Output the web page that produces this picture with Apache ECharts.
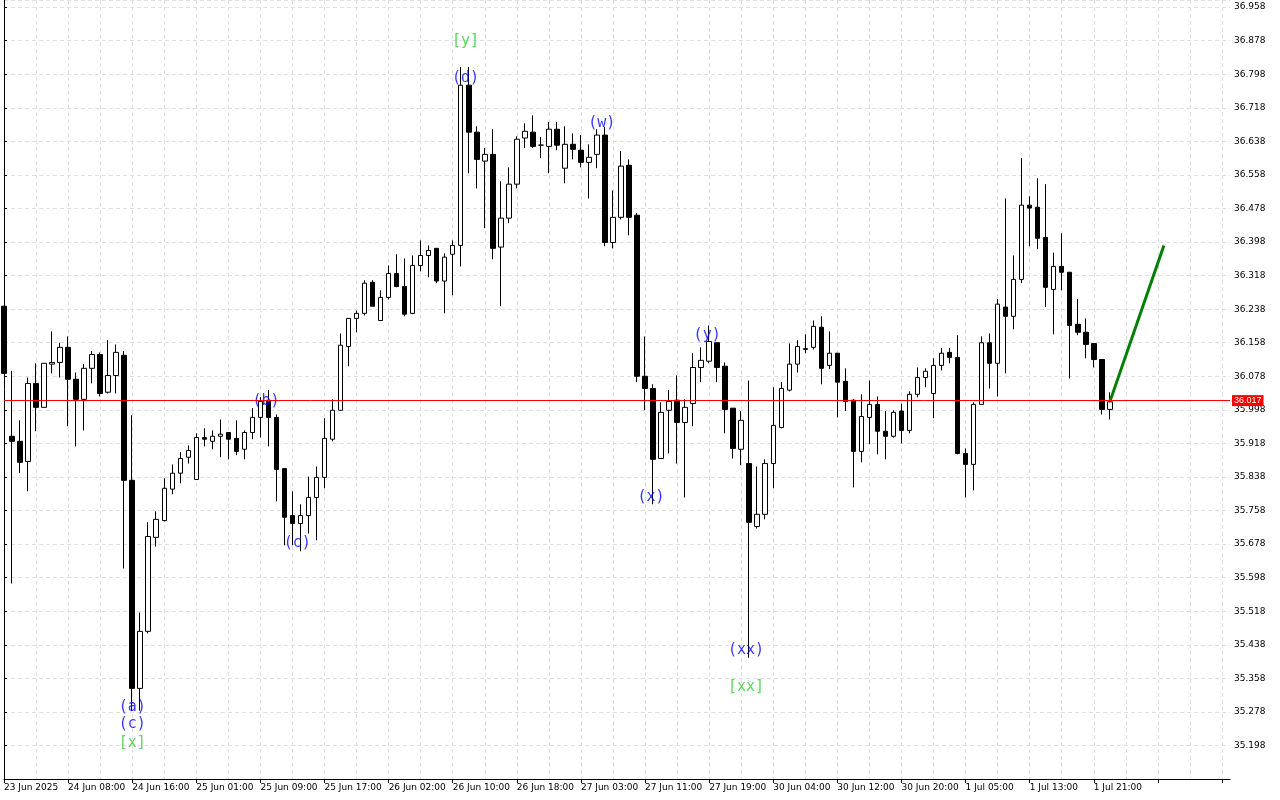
<!DOCTYPE html>
<html><head><meta charset="utf-8">
<script src="https://cdn.jsdelivr.net/npm/echarts@6/dist/echarts.min.js"></script>
<style>html,body{margin:0;padding:0;background:#fff}#c{width:1280px;height:800px}</style>
</head><body><div id="c"></div>
<script>
// OHLC as [open, close, low, high]
const candles = [
[36.245,36.085,36.085,36.245],[35.935,35.923,35.584,36.091],[35.923,35.873,35.847,35.973],[35.875,36.061,35.804,36.075],
[36.061,36.004,35.947,36.109],[36.004,36.109,36.004,36.109],[36.107,36.111,36.085,36.185],[36.111,36.147,36.075,36.158],
[36.147,36.071,35.959,36.173],[36.071,36.023,35.911,36.087],[36.023,36.097,35.949,36.107],[36.097,36.130,36.061,36.138],
[36.130,36.037,36.030,36.135],[36.040,36.080,36.037,36.164],[36.080,36.135,36.037,36.154],[36.128,35.830,35.620,36.138],
[35.830,35.334,35.281,35.985],[35.334,35.470,35.281,35.515],[35.470,35.696,35.465,35.730],[35.694,35.737,35.672,35.756],
[35.734,35.811,35.732,35.835],[35.809,35.847,35.797,35.868],[35.847,35.882,35.823,35.897],[35.885,35.901,35.870,35.913],
[35.832,35.932,35.832,35.942],[35.932,35.928,35.911,35.954],[35.923,35.935,35.904,35.949],[35.935,35.940,35.885,35.975],
[35.944,35.928,35.880,35.944],[35.930,35.899,35.890,35.973],[35.904,35.944,35.880,35.949],[35.944,35.980,35.928,36.002],
[35.980,36.018,35.932,36.028],[36.021,35.980,35.911,36.045],[35.980,35.856,35.780,35.987],[35.858,35.742,35.675,35.858],
[35.746,35.727,35.675,35.804],[35.727,35.746,35.661,35.773],[35.746,35.789,35.703,35.839],[35.789,35.837,35.687,35.863],
[35.837,35.930,35.811,35.978],[35.928,35.997,35.923,36.023],[35.997,36.152,35.997,36.180],[36.149,36.216,36.102,36.216],
[36.216,36.228,36.183,36.235],[36.228,36.300,36.223,36.307],[36.302,36.245,36.245,36.307],[36.211,36.266,36.211,36.283],
[36.266,36.323,36.261,36.342],[36.323,36.292,36.290,36.369],[36.292,36.226,36.221,36.359],[36.228,36.342,36.226,36.366],
[36.342,36.366,36.328,36.402],[36.366,36.378,36.314,36.390],[36.383,36.305,36.300,36.383],[36.305,36.362,36.228,36.371],
[36.369,36.390,36.271,36.402],[36.390,36.772,36.340,36.815],[36.772,36.660,36.562,36.815],[36.660,36.595,36.526,36.674],
[36.591,36.607,36.431,36.622],[36.607,36.383,36.357,36.667],[36.386,36.455,36.245,36.543],[36.455,36.536,36.443,36.576],
[36.536,36.643,36.526,36.650],[36.646,36.662,36.622,36.681],[36.660,36.626,36.622,36.700],[36.629,36.629,36.598,36.648],
[36.626,36.667,36.562,36.684],[36.667,36.629,36.617,36.684],[36.574,36.631,36.538,36.674],[36.631,36.619,36.595,36.657],
[36.617,36.588,36.576,36.653],[36.588,36.600,36.502,36.631],[36.607,36.653,36.574,36.667],[36.653,36.397,36.388,36.672],
[36.397,36.457,36.383,36.521],[36.457,36.579,36.452,36.615],[36.581,36.457,36.414,36.595],[36.462,36.078,36.064,36.467],
[36.078,36.049,35.997,36.173],[36.049,35.880,35.773,36.059],[35.882,35.992,35.882,36.016],[35.997,36.018,35.894,36.045],
[36.021,35.968,35.870,36.080],[35.968,36.004,35.789,36.023],[36.013,36.099,35.959,36.133],[36.099,36.116,36.064,36.147],
[36.114,36.161,36.109,36.199],[36.158,36.099,36.064,36.158],[36.102,35.999,35.942,36.111],[36.002,35.906,35.882,36.002],
[35.904,35.973,35.866,35.995],[35.870,35.730,35.407,36.068],[35.720,35.749,35.715,35.863],[35.749,35.870,35.737,35.880],
[35.870,35.961,35.811,36.052],[35.956,36.049,35.954,36.064],[36.045,36.107,36.042,36.156],[36.107,36.149,36.087,36.164],
[36.142,36.144,36.133,36.178],[36.147,36.197,36.142,36.211],[36.195,36.097,36.059,36.221],[36.104,36.133,36.095,36.185],
[36.133,36.064,35.980,36.133],[36.066,36.018,35.995,36.097],[36.021,35.899,35.813,36.023],[35.899,35.982,35.873,36.035],
[35.980,36.011,35.916,36.068],[36.011,35.947,35.892,36.030],[35.947,35.935,35.880,35.995],[35.935,35.992,35.932,35.997],
[35.995,35.949,35.918,36.013],[35.949,36.035,35.942,36.042],[36.035,36.075,36.028,36.099],[36.075,36.090,36.052,36.097],
[36.037,36.104,35.978,36.121],[36.104,36.133,36.092,36.145],[36.135,36.123,36.109,36.145],[36.123,35.894,35.892,36.176],
[35.894,35.868,35.789,35.906],[35.868,36.011,35.806,36.016],[36.011,36.158,36.011,36.173],[36.158,36.109,36.049,36.180],
[36.109,36.250,36.030,36.262],[36.243,36.221,36.085,36.502],[36.221,36.309,36.190,36.366],[36.309,36.486,36.300,36.598],
[36.486,36.479,36.388,36.507],[36.481,36.407,36.381,36.550],[36.409,36.290,36.243,36.536],[36.285,36.340,36.178,36.373],
[36.340,36.326,36.283,36.419],[36.326,36.199,36.073,36.326],[36.202,36.183,36.176,36.262],[36.183,36.154,36.121,36.216],
[36.156,36.118,36.099,36.156],[36.118,35.999,35.987,36.118],[35.999,36.017,35.975,36.040]
];
const totalSlots = 154;
const tickLabels = ["23 Jun 2025","24 Jun 08:00","24 Jun 16:00","25 Jun 01:00","25 Jun 09:00","25 Jun 17:00","26 Jun 02:00","26 Jun 10:00","26 Jun 18:00","27 Jun 03:00","27 Jun 11:00","27 Jun 19:00","30 Jun 04:00","30 Jun 12:00","30 Jun 20:00","1 Jul 05:00","1 Jul 13:00","1 Jul 21:00"];
const labelEvery = 8;
const currentPrice = 36.017;
const forecast = [[138, 36.017],[144.75, 36.390]];
const waveLabels = [
 {t:"(a)", x:16, y:35.290, c:"blue"},{t:"(c)", x:16, y:35.250, c:"blue"},{t:"[x]", x:16, y:35.203, c:"green"},
 {t:"(b)", x:32.7, y:36.018, c:"blue"},{t:"(c)", x:36.6, y:35.680, c:"blue"},
 {t:"[y]", x:57.6, y:36.877, c:"green"},{t:"(d)", x:57.6, y:36.789, c:"blue"},
 {t:"(w)", x:74.6, y:36.682, c:"blue"},{t:"(x)", x:80.75, y:35.790, c:"blue"},
 {t:"(y)", x:87.75, y:36.176, c:"blue"},{t:"(xx)", x:92.6, y:35.425, c:"blue"},{t:"[xx]", x:92.6, y:35.336, c:"green"}
];

const cats = [];
for (let i=0;i<totalSlots;i++) cats.push(String(i));
const candleData = candles.slice();
while (candleData.length < totalSlots) candleData.push('-');

const chart = echarts.init(document.getElementById('c'), null, {renderer:'canvas'});
chart.setOption({
 animation:false,
 backgroundColor:'#fff',
 grid:{left:4, right:50, top:0, bottom:21},
 xAxis:[{
   type:'category', data:cats, boundaryGap:false,
   axisLine:{lineStyle:{color:'#000'}},
   axisTick:{interval:labelEvery-1, length:4, lineStyle:{color:'#000'}},
   axisLabel:{interval:labelEvery-1, align:'left', color:'#000', fontSize:9, fontFamily:'DejaVu Sans', margin:4,
     formatter:(v,i)=> (i%labelEvery===0 && tickLabels[i/labelEvery]) ? tickLabels[i/labelEvery] : ''},
   splitLine:{show:true, interval:3, lineStyle:{color:'#e0e0e0', type:[4,3]}}
 },{
   type:'value', min:0, max:totalSlots-1, show:false
 }],
 yAxis:{
   type:'value', position:'right', min:35.118, max:36.975, interval:0.08,
   axisLine:{show:true, lineStyle:{color:'#000'}},
   axisTick:{show:true, length:3, lineStyle:{color:'#000'}},
   axisLabel:{color:'#000', fontSize:9, fontFamily:'DejaVu Sans', margin:4, showMaxLabel:false,
     formatter:v=> v<35.15 ? '' : v.toFixed(3)},
   splitLine:{show:true, lineStyle:{color:'#e0e0e0', type:[4,3]}}
 },
 series:[{
   type:'candlestick', data:candleData, barWidth:5,
   itemStyle:{color:'#fff', color0:'#000', borderColor:'#000', borderColor0:'#000', borderWidth:1},
   markLine:{symbol:'none', silent:true, animation:false,
     lineStyle:{color:'#ff0000', width:1, type:'solid'},
     label:{position:'end', formatter:currentPrice.toFixed(3), backgroundColor:'#ff0000', color:'#fff', fontSize:9, padding:[1,2], distance:2},
     data:[{yAxis:currentPrice}]}
 },{
   type:'line', xAxisIndex:1, data:forecast, symbol:'none',
   lineStyle:{color:'#008000', width:3}
 },{
   type:'scatter', xAxisIndex:1, symbolSize:0,
   data:waveLabels.map(d=>({value:[d.x,d.y], label:{show:true, position:'inside', formatter:d.t,
     color:d.c==='blue'?'#0000ff':'#32cd32', fontSize:15, fontFamily:'DejaVu Sans Mono'}})),
 }]
});
</script></body></html>
